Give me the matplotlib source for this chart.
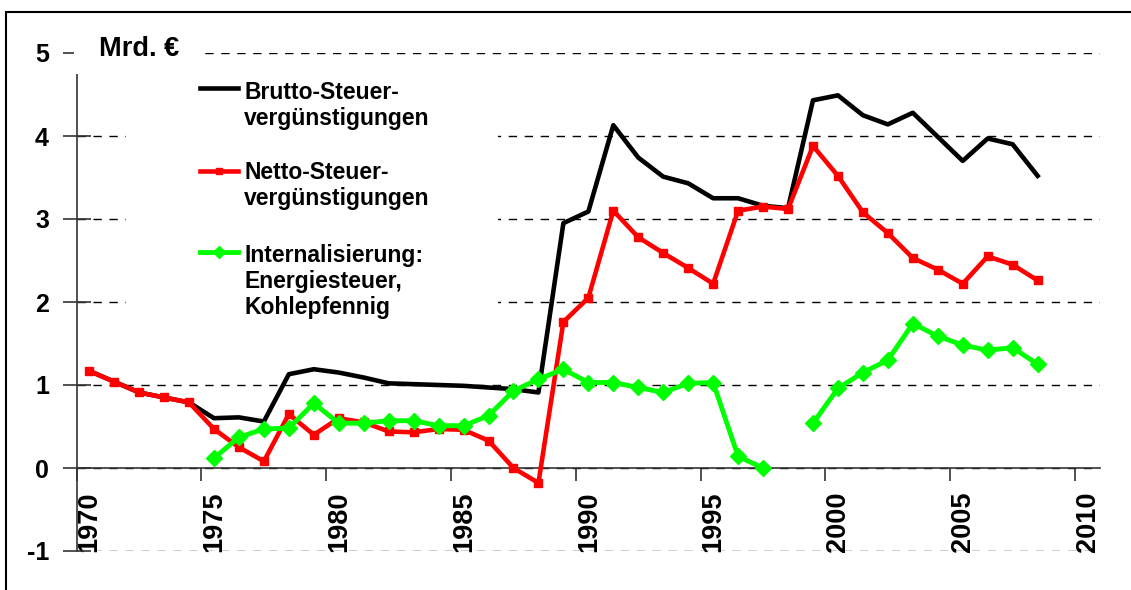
import numpy as np
import matplotlib.pyplot as plt
from matplotlib.lines import Line2D
from matplotlib.patches import Rectangle

plt.rcParams['font.family'] = ['Liberation Sans', 'DejaVu Sans']
plt.rcParams['font.weight'] = 'bold'

# data, Mrd. Euro per year
years = np.arange(1970, 2009)
nan = np.nan

brutto = [1.17, 1.04, 0.91, 0.85, 0.79, 0.60, 0.61, 0.56, 1.13, 1.19,
          1.15, 1.09, 1.02, 1.01, 1.00, 0.99, 0.97, 0.95, 0.91, 2.95,
          3.09, 4.13, 3.74, 3.51, 3.43, 3.25, 3.25, 3.16, 3.13, 4.43,
          4.49, 4.25, 4.14, 4.28, 3.99, 3.70, 3.97, 3.90, 3.52]

netto = [1.17, 1.04, 0.91, 0.85, 0.79, 0.47, 0.25, 0.08, 0.65, 0.40,
         0.60, 0.55, 0.44, 0.43, 0.47, 0.46, 0.33, 0.00, -0.18, 1.76,
         2.05, 3.10, 2.78, 2.59, 2.41, 2.22, 3.10, 3.15, 3.12, 3.88,
         3.52, 3.08, 2.83, 2.53, 2.39, 2.22, 2.55, 2.45, 2.26]

intern = [nan, nan, nan, nan, nan, 0.12, 0.37, 0.47, 0.48, 0.78,
          0.54, 0.54, 0.57, 0.57, 0.51, 0.51, 0.63, 0.93, 1.07, 1.19,
          1.03, 1.03, 0.97, 0.91, 1.02, 1.03, 0.14, 0.00, nan, 0.54,
          0.96, 1.15, 1.30, 1.74, 1.59, 1.48, 1.42, 1.45, 1.25]

labels = [["Brutto-Steuer-", "vergünstigungen"],
          ["Netto-Steuer-", "vergünstigungen"],
          ["Internalisierung:", "Energiesteuer,", "Kohlepfennig"]]

W, H = 1131, 590


def fx(x):
    return x / W


def fy(y):
    return 1 - y / H


fig = plt.figure(figsize=(W / 100, H / 100), dpi=100)
ax = fig.add_axes([fx(76.7), 39 / H, (1100 - 76.7) / W, 498 / H])

styles = [dict(color='black', lw=3.3),
          dict(color='#ff0000', lw=3.3, marker='s', ms=5.5),
          dict(color='#00ff00', lw=3.5, marker='D', ms=8)]

# points sit in the middle of each year slot
xpos = years + 0.5
for vals, st in zip([brutto, netto, intern], styles):
    ax.plot(xpos, np.array(vals, dtype=float), zorder=3, clip_on=False, **st)

ax.set_xlim(1970, 2011)
ax.set_ylim(-1, 5)
ax.set_xticks(np.arange(1970, 2011, 5))
ax.set_yticks(np.arange(-1, 6, 1))
ax.set_yticklabels(['-1', '0', '1', '2', '3', '4', '5'])

ax.yaxis.grid(True, color='black', lw=1.0, linestyle=(0, (6, 5.5)))
ax.set_axisbelow(True)

for s in ['top', 'right']:
    ax.spines[s].set_visible(False)
ax.spines['bottom'].set_position(('data', 0))
for s in ['left', 'bottom']:
    ax.spines[s].set_color('#333333')
    ax.spines[s].set_linewidth(1.2)

ax.tick_params(axis='y', direction='inout', length=20, width=1.2,
               color='#333333', labelsize=18, pad=10)
ax.tick_params(axis='x', direction='out', length=9, width=1.2,
               color='#333333', labelsize=19.5, pad=8)
for lab in ax.get_yticklabels():
    lab.set_fontweight('bold')
for lab in ax.get_xticklabels():
    lab.set_rotation(90)
    lab.set_ha('left')
    lab.set_va('top')
    lab.set_fontweight('bold')

# unit label with white box over the axis top
fig.add_artist(Rectangle((fx(74), fy(74)), (202 - 74) / W, (74 - 25) / H,
                         transform=fig.transFigure, facecolor='white',
                         edgecolor='none', zorder=1))
fig.text(fx(99), fy(56), 'Mrd. €', fontsize=19.5, fontweight='bold',
         ha='left', va='baseline', zorder=2)

# legend box
fig.add_artist(Rectangle((fx(126), fy(330)), (498 - 126) / W, (330 - 62) / H,
                         transform=fig.transFigure, facecolor='white',
                         edgecolor='none', zorder=1))
handle_y = [88, 171, 252]
text_y = [99, 179, 262]
for st, lines, hy, ty in zip(styles, labels, handle_y, text_y):
    fig.add_artist(Line2D([fx(200), fx(238)], [fy(hy), fy(hy)],
                          transform=fig.transFigure, color=st['color'],
                          lw=st['lw'], zorder=2))
    if 'marker' in st:
        fig.add_artist(Line2D([fx(219)], [fy(hy)], transform=fig.transFigure,
                              color=st['color'], marker=st['marker'],
                              ms=st['ms'] - 1.5, lw=0, zorder=2))
    for i, line in enumerate(lines):
        fig.text(fx(244), fy(ty + i * 26), line, fontsize=16.5,
                 fontweight='bold', ha='left', va='baseline', zorder=2)

# outer frame
fig.add_artist(Rectangle((fx(6), -0.1), 1.2, fy(12) + 0.1,
                         transform=fig.transFigure, fill=False,
                         edgecolor='black', lw=1.5, zorder=5))

fig.savefig('out.png', dpi=100)
